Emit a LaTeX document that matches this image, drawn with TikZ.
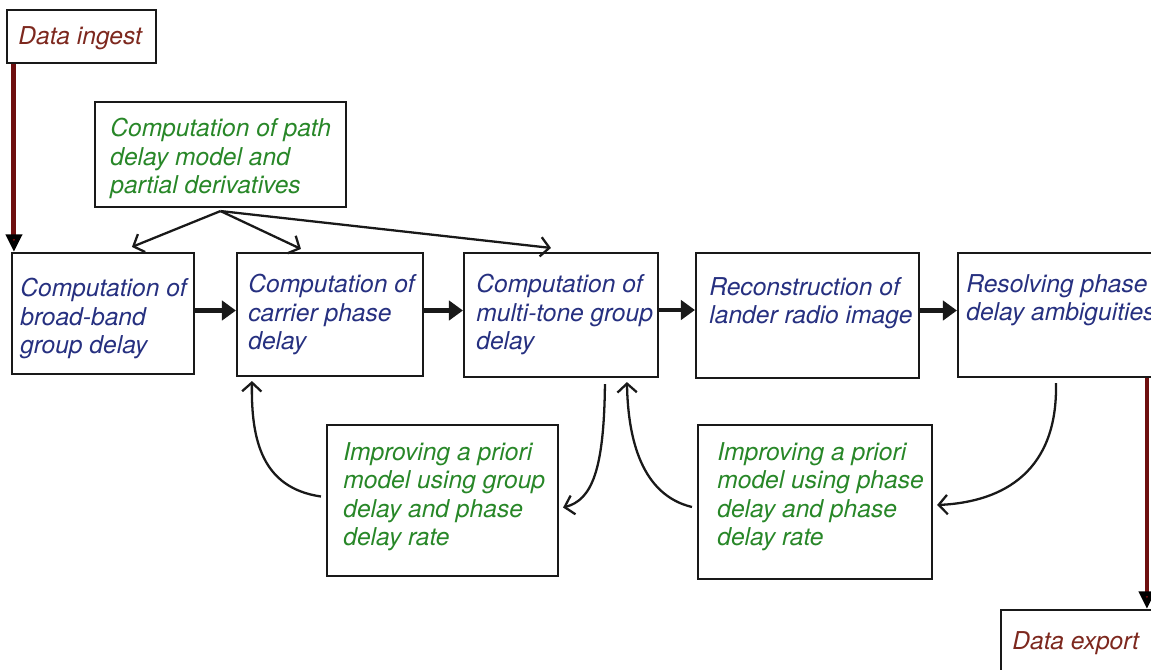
\documentclass[tikz,border=0pt]{standalone}
\usepackage{fontspec}
\setmainfont{TeX Gyre Heros}
\usetikzlibrary{arrows.meta,fit,calc}
\definecolor{navytxt}{RGB}{38,48,128}
\definecolor{greentxt}{RGB}{40,135,40}
\definecolor{redtxt}{RGB}{125,40,30}
\definecolor{redline}{RGB}{110,15,15}
\begin{document}
\begin{tikzpicture}[x=0.02cm,y=-0.02cm,
  box/.style={draw=black!90, line width=1.2pt, inner sep=0pt},
  txt/.style={inner sep=0pt, anchor=north west, align=left, font=\fontsize{14}{16.2}\selectfont\itshape},
  bluet/.style={txt, text=navytxt},
  greent/.style={txt, text=greentxt},
  redt/.style={txt, text=redtxt},
  feedarrow/.style={draw=black!90, line width=1.3pt, -{Straight Barb[length=5pt,width=11pt]}},
  flowarrow/.style={draw=black!90, line width=2.8pt, -{Triangle[length=8pt,width=11pt]}},
  redarrow/.style={draw=redline, line width=2.8pt, -{Triangle[length=10pt,width=9pt,color=black,fill=redline]}},
]
\useasboundingbox (0,0) rectangle (1151,669);

% boxes
\node[box, fit={(7,10) (156,63)}] (di) {};
\node[box, fit={(95,102) (346,207)}] (pm) {};
\node[box, fit={(12,253) (194,374)}] (b1) {};
\node[box, fit={(237,253) (423,376)}] (b2) {};
\node[box, fit={(464,253) (658,377)}] (b3) {};
\node[box, fit={(696,253) (919,378)}] (b4) {};
\node[box, fit={(958,253) (1175,377)}] (b5) {};
\node[box, fit={(327,425) (558,576)}] (i1) {};
\node[box, fit={(698,425) (932,579)}] (i2) {};
\node[box, fit={(1001,610) (1175,700)}] (ex) {};

% texts
\node[redt] (tdi) at (18,26) {Data ingest};
\node[greent] (tpm) at (110,118) {Computation of path\\delay model and\\partial derivatives};
\node[bluet] (tb1) at (20,278) {Computation of\\broad-band\\group delay};
\node[bluet] (tb2) at (248,274) {Computation of\\carrier phase\\delay};
\node[bluet] (tb3) at (476,274) {Computation of\\multi-tone group\\delay};
\node[bluet] (tb4) at (709,277) {Reconstruction of\\lander radio image};
\node[bluet] (tb5) at (966,274) {Resolving phase\\delay ambiguities};
\node[greent] (ti1) at (343,442) {Improving a priori\\model using group\\delay and phase\\delay rate};
\node[greent] (ti2) at (717,442) {Improving a priori\\model using phase\\delay and phase\\delay rate};
\node[redt] (tex) at (1012,631) {Data export};

% red arrows
\draw[redarrow] ($(di.south west)+(8,0)$) -- ($(b1.north west)+(3,0)$);
\draw[redarrow] ($(b5.south west)+(190,0)$) -- ($(ex.north west)+(147,0)$);

% path model arrows
\coordinate (pms) at ($(pm.south)+(0,3)$);
\draw[feedarrow] (pms) -- ($(b1.north west)+(121,-5)$);
\draw[feedarrow] (pms) -- ($(b2.north west)+(65,-3)$);
\draw[feedarrow] (pms) -- ($(b3.north west)+(88,-4)$);

% flow arrows
\draw[flowarrow] ($(b1.east)+(0,-3)$) -- ($(b1.east -| b2.west)+(0,-3)$);
\draw[flowarrow] ($(b2.east)+(0,-4)$) -- ($(b2.east -| b3.west)+(0,-4)$);
\draw[flowarrow] ($(b3.east)+(0,-5)$) -- ($(b3.east -| b4.west)+(0,-5)$);
\draw[flowarrow] ($(b4.east)+(0,-5)$) -- ($(b4.east -| b5.west)+(0,-5)$);

% feedback curves
\draw[feedarrow] ($(i1.west)+(-5,-4)$) .. controls (262,488) and (251,440) .. ($(b2.south west)+(16,4)$);
\draw[feedarrow] ($(b3.south west)+(142,6)$) .. controls (604,470) and (592,500) .. ($(i1.east)+(4,7)$);
\draw[feedarrow] ($(i2.west)+(-5,5)$) .. controls (642,495) and (628,440) .. ($(b3.south west)+(164,4)$);
\draw[feedarrow] ($(b5.south west)+(99,5)$) .. controls (1058,470) and (1005,502) .. ($(i2.east)+(4,3)$);
\end{tikzpicture}
\end{document}
